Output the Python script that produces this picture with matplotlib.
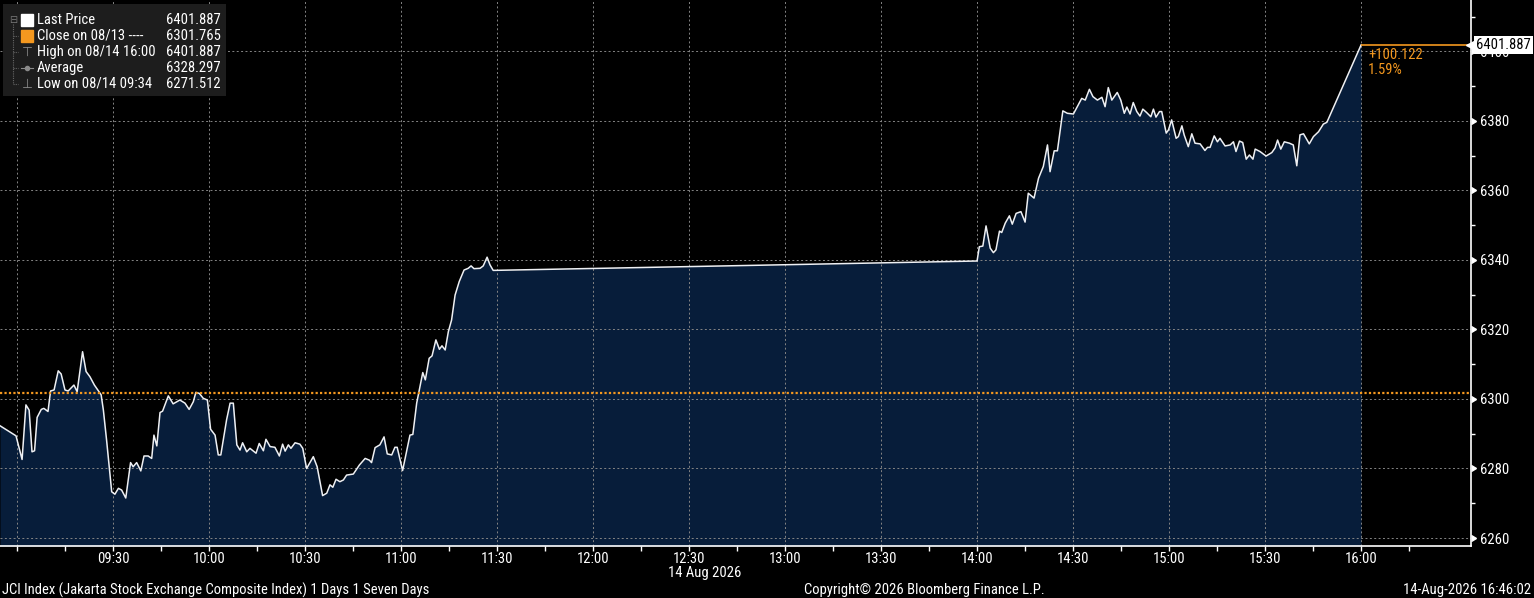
import matplotlib

matplotlib.use("Agg")
import matplotlib.dates as mdates
import matplotlib.lines as mlines
import matplotlib.pyplot as plt
import matplotlib.transforms as mtrans
import pandas as pd
from matplotlib import font_manager
from matplotlib.patches import Rectangle
from matplotlib.ticker import MultipleLocator

# --- data -----------------------------------------------------------------
SESSION_DATE = "2026-08-14"
OPEN_TIME = "09:00"

minutes_after_open = [
    -5.3, -0.3, 1.6, 2.8, 3.8, 4.7, 5.5, 6.3, 7.6, 8.4,
    9.7, 10.5, 11.6, 12.9, 13.8, 15.0, 16.0, 17.8, 18.8, 20.5,
    21.6, 22.8, 24.2, 26.3, 27.0, 28.0, 29.6, 30.6, 31.7, 32.7,
    34.0, 35.5, 36.3, 37.4, 38.7, 39.7, 41.0, 42.1, 42.8, 43.7,
    44.7, 45.5, 47.3, 48.8, 50.9, 52.5, 53.8, 55.1, 55.9, 57.0,
    58.2, 59.5, 60.5, 61.9, 62.9, 63.7, 65.5, 66.6, 67.6, 68.7,
    69.7, 70.5, 71.8, 72.8, 74.7, 75.7, 77.0, 77.8, 79.1, 80.6,
    82.0, 83.0, 83.8, 84.8, 85.6, 86.9, 88.4, 89.3, 90.5, 92.6,
    93.8, 95.5, 96.8, 97.8, 98.7, 99.7, 100.9, 102.0, 103.0, 105.1,
    107.0, 108.8, 110.1, 110.8, 111.9, 113.4, 114.7, 115.7, 117.1, 118.1,
    118.8, 120.5, 122.8, 123.7, 124.9, 126.8, 127.6, 128.8, 129.7, 130.9,
    132.0, 132.8, 133.8, 134.8, 135.8, 136.9, 138.2, 139.7, 141.0, 141.9,
    142.8, 144.7, 145.7, 146.9, 147.8, 148.8,
    300.0, 300.7, 301.8, 302.8, 304.1, 305.1, 305.9, 307.0, 307.7, 308.8,
    310.1, 311.0, 312.2, 313.7, 315.0, 316.0, 317.8, 319.2, 320.7, 322.0,
    322.8, 324.1, 325.1, 326.8, 328.2, 330.1, 331.3, 332.7, 333.8, 335.1,
    336.2, 337.6, 339.0, 340.0, 341.0, 342.1, 343.8, 344.9, 346.0, 346.8,
    347.8, 348.8, 349.9, 350.9, 351.8, 353.0, 354.3, 355.1, 355.9, 357.0,
    357.7, 359.1, 359.8, 360.8, 362.2, 362.9, 364.0, 364.7, 366.0, 367.1,
    368.1, 369.7, 371.2, 372.0, 372.8, 374.1, 375.1, 375.9, 377.5, 379.1,
    380.1, 380.9, 382.0, 383.0, 384.1, 385.1, 386.2, 386.9, 388.4, 390.3,
    392.1, 393.1, 393.9, 394.9, 396.0, 397.6, 398.8, 399.9, 400.9, 402.0,
    403.8, 405.1, 406.7, 408.2, 409.3, 420.0,
]

prices = [
    6292.3, 6289.4, 6282.6, 6298.3, 6296.8, 6284.8, 6285.1, 6294.7, 6297.0, 6297.3,
    6296.4, 6302.3, 6302.6, 6308.1, 6307.2, 6302.6, 6302.3, 6304.0, 6302.1, 6313.6,
    6307.9, 6306.4, 6304.0, 6301.2, 6296.8, 6288.2, 6273.3, 6272.6, 6274.3, 6273.8,
    6271.512, 6281.7, 6280.5, 6281.7, 6279.3, 6283.6, 6283.6, 6282.9, 6289.6, 6286.5,
    6296.1, 6296.5, 6300.9, 6298.6, 6299.7, 6298.8, 6297.0, 6299.2, 6301.9, 6301.6,
    6300.2, 6299.7, 6291.3, 6289.6, 6283.9, 6283.9, 6294.0, 6298.8, 6298.8, 6286.8,
    6285.3, 6287.4, 6284.8, 6285.8, 6284.4, 6287.2, 6285.1, 6288.4, 6286.3, 6286.1,
    6283.6, 6287.0, 6285.0, 6286.8, 6285.8, 6287.4, 6287.0, 6285.8, 6280.0, 6283.4,
    6280.5, 6272.2, 6272.9, 6275.3, 6274.6, 6276.9, 6276.2, 6276.7, 6278.1, 6278.4,
    6281.0, 6282.9, 6282.4, 6281.7, 6286.0, 6286.8, 6289.1, 6284.2, 6283.9, 6286.1,
    6286.1, 6279.4, 6289.6, 6289.8, 6298.8, 6307.6, 6305.5, 6311.7, 6312.4, 6317.0,
    6314.3, 6315.3, 6314.1, 6319.4, 6322.7, 6329.9, 6333.8, 6337.1, 6337.6, 6338.3,
    6337.5, 6337.6, 6338.3, 6340.8, 6338.6, 6337.0,
    6339.7, 6343.8, 6344.0, 6349.8, 6343.4, 6342.1, 6342.9, 6348.3, 6347.9, 6350.6,
    6352.7, 6350.3, 6353.4, 6353.9, 6350.9, 6359.2, 6357.8, 6363.5, 6366.9, 6373.1,
    6365.4, 6371.4, 6371.4, 6382.9, 6382.2, 6382.0, 6384.1, 6386.5, 6386.0, 6389.1,
    6387.0, 6386.0, 6386.8, 6384.1, 6389.6, 6386.0, 6388.2, 6386.0, 6382.2, 6384.0,
    6382.0, 6385.3, 6382.7, 6381.4, 6383.4, 6382.4, 6381.2, 6383.4, 6381.1, 6382.7,
    6382.7, 6376.5, 6377.4, 6380.3, 6375.0, 6375.5, 6378.6, 6376.0, 6372.6, 6376.3,
    6373.6, 6373.4, 6371.5, 6372.4, 6372.4, 6375.7, 6374.0, 6375.0, 6372.8, 6373.1,
    6374.0, 6371.2, 6374.2, 6373.8, 6369.0, 6370.2, 6369.0, 6371.9, 6371.2, 6369.9,
    6370.9, 6372.2, 6374.5, 6371.9, 6374.0, 6373.6, 6373.1, 6367.1, 6376.0, 6376.3,
    6373.4, 6375.5, 6376.9, 6379.1, 6379.6, 6401.887,
]

PREV_CLOSE = 6301.765
AVERAGE = 6328.297
LOW_TIME = "09:34"
HIGH_TIME = "16:00"

x_tick_labels = ["", "09:30", "10:00", "10:30", "11:00", "11:30", "12:00", "12:30",
                 "13:00", "13:30", "14:00", "14:30", "15:00", "15:30", "16:00"]
y_ticks = [6260, 6280, 6300, 6320, 6340, 6360, 6380, 6400]

# --- style ----------------------------------------------------------------
BG = "black"
FILL = "#071d3a"
LINE = "#eef0f4"
ORANGE = "#f4981f"
GRID = "#858585"
LEGEND_BG = "#1d1d1d"
SYMBOL = "#8a8a8a"

# the terminal uses a narrow font; take the first condensed face we can find
names = {f.name for f in font_manager.fontManager.ttflist}
FONT, FS = "DejaVu Sans", 9
for cand in ("Liberation Sans Narrow", "Roboto Condensed", "IBM Plex Sans Condensed"):
    if cand in names:
        FONT, FS = cand, 10.5
        break
plt.rcParams["font.family"] = [FONT, "DejaVu Sans"]
plt.rcParams["font.size"] = FS

W_PX, H_PX = 1534, 598
AX_W_PX, AX_H_PX = 1471, 546

t0 = pd.Timestamp(f"{SESSION_DATE} {OPEN_TIME}")
times = t0 + pd.to_timedelta(minutes_after_open, unit="min")
x = mdates.date2num(times.to_pydatetime())
last = prices[-1]
high = max(prices)
low = min(prices)
change = last - PREV_CLOSE
change_pct = change / PREV_CLOSE * 100

x_left = mdates.date2num(pd.Timestamp(f"{SESSION_DATE} 08:54:42").to_pydatetime())
x_right = mdates.date2num(pd.Timestamp(f"{SESSION_DATE} 16:34:20").to_pydatetime())
y_bottom, y_top = 6257.7, 6414.8

fig = plt.figure(figsize=(W_PX / 100, H_PX / 100), dpi=100, facecolor=BG)
ax = fig.add_axes([0, 1 - AX_H_PX / H_PX, AX_W_PX / W_PX, AX_H_PX / H_PX], facecolor=BG)

ax.fill_between(x, prices, y_bottom, color=FILL, linewidth=0, zorder=1)
ax.plot(x, prices, color=LINE, lw=1.1, zorder=3)
ax.axhline(PREV_CLOSE, color=ORANGE, lw=1.6, ls=(0, (1, 1)), zorder=4)
ax.hlines(last, x[-1], x_right, color=ORANGE, lw=1.2, zorder=4)

ax.set_xlim(x_left, x_right)
ax.set_ylim(y_bottom, y_top)

major = mdates.date2num(pd.date_range(f"{SESSION_DATE} 09:00", f"{SESSION_DATE} 16:00",
                                      freq="30min").to_pydatetime())
minor = mdates.date2num(pd.date_range(f"{SESSION_DATE} 09:00", f"{SESSION_DATE} 16:15",
                                      freq="15min").to_pydatetime())
ax.set_xticks(major, labels=x_tick_labels)
ax.set_xticks(minor, minor=True)

ax.yaxis.tick_right()
ax.set_yticks(y_ticks, labels=[str(v) for v in y_ticks])
ax.yaxis.set_minor_locator(MultipleLocator(10))

ax.tick_params(axis="x", which="both", colors="white", length=3.5, width=1, pad=0.8)
ax.tick_params(axis="y", which="major", colors="white", length=5, width=1, pad=1.5)
ax.tick_params(axis="y", which="minor", colors="white", length=3, width=1)
for tick in ax.yaxis.get_major_ticks():
    tick.tick2line.set_marker(mlines.CARETRIGHTBASE)
    tick.tick2line.set_markerfacecolor("white")
    tick.tick2line.set_markeredgecolor("white")

ax.grid(True, which="major", color=GRID, ls=(0, (2, 2.5)), lw=0.7)
ax.set_axisbelow(False)

for side in ("left", "top"):
    ax.spines[side].set_visible(False)
for side in ("bottom", "right"):
    ax.spines[side].set_color("white")
    ax.spines[side].set_linewidth(1.2)
    ax.spines[side].set_zorder(6)

# last price box on the axis
ybl = mtrans.blended_transform_factory(ax.transAxes, ax.transData)
ax.plot([1 - 1 / AX_W_PX], [last], marker="<", ms=6, color="white", transform=ybl,
        clip_on=False, zorder=11)
ax.text(1 + 5 / AX_W_PX, last, f"{last:.3f}", transform=ybl, color="black",
        ha="left", va="center", zorder=10, clip_on=False,
        bbox=dict(boxstyle="square,pad=0.15", fc="white", ec="none"))
ax.annotate(f"+{change:.3f}\n{change_pct:.2f}%", xy=(x[-1], last), xytext=(5, -2),
            textcoords="offset points", color=ORANGE, ha="left", va="top",
            linespacing=1.15, zorder=5)

# date under the axis
xbl = mtrans.blended_transform_factory(ax.transData, ax.transAxes)
ax.text(mdates.date2num(pd.Timestamp(f"{SESSION_DATE} 12:35").to_pydatetime()),
        -27 / AX_H_PX, pd.Timestamp(SESSION_DATE).strftime("%d %b %Y"),
        transform=xbl, color="white", ha="center", va="center")


# legend panel
def ax_xy(px, py):
    return px / AX_W_PX, 1 - py / AX_H_PX


ax.add_patch(Rectangle(ax_xy(3, 96), 223 / AX_W_PX, 92 / AX_H_PX, transform=ax.transAxes,
                       fc=LEGEND_BG, ec="none", zorder=7))
rows_y = [20, 36, 52, 68, 84]
legend_rows = [
    ("Last Price", last),
    ("Close on 08/13 ----", PREV_CLOSE),
    (f"High on 08/14 {HIGH_TIME}", high),
    ("Average", AVERAGE),
    (f"Low on 08/14 {LOW_TIME}", low),
]
for (label, value), py in zip(legend_rows, rows_y):
    ax.text(*ax_xy(37, py), label, transform=ax.transAxes, color="white",
            ha="left", va="center", zorder=8)
    ax.text(*ax_xy(221, py), f"{value:.3f}", transform=ax.transAxes, color="white",
            ha="right", va="center", zorder=8)

tree_x = 13
ax.plot(*zip(ax_xy(tree_x, 24), ax_xy(tree_x, rows_y[-1])), transform=ax.transAxes,
        color="#666666", lw=0.8, ls=(0, (1, 1)), zorder=8)
for py in rows_y[1:]:
    ax.plot(*zip(ax_xy(tree_x, py), ax_xy(tree_x + 5, py)), transform=ax.transAxes,
            color="#666666", lw=0.8, ls=(0, (1, 1)), zorder=8)
ax.text(*ax_xy(tree_x, rows_y[0]), "\u229f", transform=ax.transAxes, color="#777777",
        ha="center", va="center", fontsize=7, family="DejaVu Sans", zorder=8)
ax.plot(*ax_xy(27, rows_y[0]), marker="s", ms=8, color="white", transform=ax.transAxes,
        zorder=8)
ax.plot(*ax_xy(27, rows_y[1]), marker="s", ms=8, color=ORANGE, transform=ax.transAxes,
        zorder=8)
ax.text(*ax_xy(27, rows_y[2]), "\u22a4", transform=ax.transAxes, color=SYMBOL,
        ha="center", va="center", fontsize=9, family="DejaVu Sans", zorder=8)
ax.plot(*zip(ax_xy(21, rows_y[3]), ax_xy(33, rows_y[3])), transform=ax.transAxes,
        color=SYMBOL, lw=0.8, zorder=8)
ax.plot(*ax_xy(27, rows_y[3]), marker="o", ms=3, color=SYMBOL, transform=ax.transAxes,
        zorder=8)
ax.text(*ax_xy(27, rows_y[4]), "\u22a5", transform=ax.transAxes, color=SYMBOL,
        ha="center", va="center", fontsize=9, family="DejaVu Sans", zorder=8)

# footer
foot_y = 1 - 590 / H_PX
fig.text(2 / W_PX, foot_y, "JCI Index (Jakarta Stock Exchange Composite Index) 1 Days 1 Seven Days",
         color="white", ha="left", va="center")
fig.text(924 / W_PX, foot_y, "Copyright\u00a9 2026 Bloomberg Finance L.P.",
         color="white", ha="center", va="center")
fig.text(1 - 3 / W_PX, foot_y, "14-Aug-2026 16:46:02", color="white", ha="right", va="center")

fig.savefig("out.png", dpi=100, facecolor=BG)
plt.close(fig)
